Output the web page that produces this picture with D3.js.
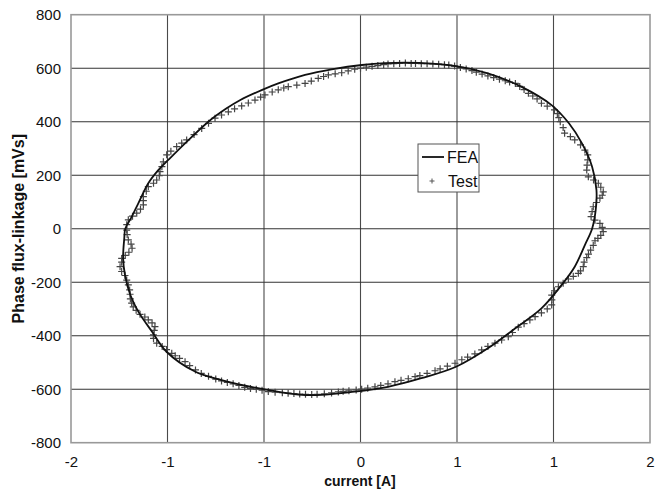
<!DOCTYPE html>
<html>
<head>
<meta charset="utf-8">
<script src="https://cdn.jsdelivr.net/npm/d3@7"></script>
<style>
  html, body { margin: 0; padding: 0; background: #fff; }
  svg { display: block; font-family: Arial, "Liberation Sans", sans-serif; }
</style>
</head>
<body>
<svg id="chart" width="662" height="491"></svg>
<script>
// Axis ticks (Excel style: major unit 2/3, labels rounded to integers)
const xTicks = [-2, -4/3, -2/3, 0, 2/3, 4/3, 2];
const yTicks = [-800, -600, -400, -200, 0, 200, 400, 600, 800];

// FEA flux-linkage loop: current [A] / flux-linkage [mVs]
const feaCurrent = [-0.20, 0.01, 0.31, 0.66, 0.88, 1.11, 1.32, 1.44, 1.53, 1.60, 1.63, 1.625, 1.60, 1.55, 1.48, 1.39, 1.25, 1.07, 0.88, 0.66, 0.42, 0.19, -0.04, -0.38, -0.68, -0.96, -1.14, -1.34, -1.44, -1.535, -1.59, -1.627, -1.64, -1.632, -1.625, -1.58, -1.535, -1.466, -1.397, -1.328, -1.212, -1.051, -0.93, -0.83, -0.683, -0.568, -0.383];
const feaFlux    = [596, 612, 621, 608, 581, 531, 462, 394, 319, 232, 145, 70, 0, -61, -142, -210, -298, -372, -447, -516, -559, -591, -609, -622, -599, -566, -535, -460, -385, -310, -248, -173, -111, -36, 0, 45, 95, 170, 219, 257, 319, 400, 448, 481, 518, 543, 575];

// Measured loop
const testCurrent = [-0.04, 0.0, 0.04, 0.08, 0.12, 0.16, 0.19, 0.23, 0.27, 0.31, 0.35, 0.38, 0.42, 0.46, 0.50, 0.54, 0.58, 0.61, 0.65, 0.69, 0.73, 0.77, 0.80, 0.84, 0.88, 0.92, 0.96, 1.00, 1.03, 1.07, 1.10, 1.13, 1.16, 1.19, 1.22, 1.25, 1.29, 1.34, 1.36, 1.37, 1.38, 1.40, 1.41, 1.45, 1.48, 1.52, 1.55, 1.57, 1.57, 1.565, 1.563, 1.574, 1.61, 1.643, 1.66, 1.677, 1.67, 1.654, 1.63, 1.608, 1.60, 1.593, 1.62, 1.654, 1.67, 1.677, 1.66, 1.64, 1.62, 1.608, 1.59, 1.575, 1.563, 1.545, 1.539, 1.52, 1.505, 1.47, 1.436, 1.40, 1.367, 1.34, 1.321, 1.322, 1.321, 1.29, 1.25, 1.206, 1.17, 1.13, 1.09, 1.05, 1.021, 0.975, 0.929, 0.88, 0.837, 0.79, 0.74, 0.70, 0.653, 0.60, 0.55, 0.515, 0.46, 0.41, 0.377, 0.33, 0.28, 0.238, 0.19, 0.14, 0.10, 0.05, 0.008, -0.03, -0.08, -0.12, -0.153, -0.20, -0.25, -0.30, -0.337, -0.38, -0.42, -0.46, -0.50, -0.54, -0.59, -0.637, -0.68, -0.72, -0.76, -0.80, -0.84, -0.88, -0.92, -0.96, -1.00, -1.05, -1.10, -1.14, -1.18, -1.212, -1.25, -1.28, -1.304, -1.34, -1.37, -1.408, -1.43, -1.431, -1.425, -1.42, -1.44, -1.466, -1.49, -1.523, -1.55, -1.57, -1.581, -1.59, -1.592, -1.595, -1.604, -1.615, -1.627, -1.65, -1.661, -1.65, -1.65, -1.625, -1.60, -1.578, -1.585, -1.604, -1.612, -1.615, -1.615, -1.604, -1.575, -1.546, -1.52, -1.50, -1.50, -1.50, -1.48, -1.466, -1.43, -1.408, -1.39, -1.385, -1.372, -1.362, -1.339, -1.31, -1.27, -1.235, -1.201, -1.15, -1.097, -1.05, -1.005, -0.96, -0.913, -0.87, -0.821, -0.775, -0.729, -0.69, -0.66, -0.61, -0.568, -0.53, -0.499, -0.44, -0.383, -0.34, -0.292, -0.255, -0.222, -0.175, -0.13, -0.085];
const testFlux    = [596, 600, 604, 607, 610, 613, 616, 617, 618, 619, 618, 618, 617, 617, 616, 615, 613, 612, 608, 603, 597, 591, 585, 578, 571, 565, 559, 553, 548, 543, 532, 520, 506, 496, 485, 469, 458, 444, 430, 415, 400, 378, 357, 344, 332, 313, 294, 276, 257, 238, 219, 194, 182, 170, 155, 138, 125, 114, 98, 82, 64, 45, 32, 20, 5, -11, -25, -36, -45, -62, -80, -95, -108, -125, -142, -158, -167, -178, -188, -204, -217, -232, -248, -266, -285, -300, -315, -329, -341, -355, -368, -388, -404, -416, -428, -440, -453, -468, -480, -490, -503, -514, -524, -531, -541, -549, -553, -561, -567, -572, -580, -586, -591, -596, -600, -603, -606, -608, -610, -614, -617, -619, -620, -619, -618, -616, -615, -613, -611, -609, -604, -600, -597, -593, -586, -580, -575, -569, -562, -552, -541, -528, -512, -497, -485, -475, -466, -452, -440, -428, -410, -397, -380, -366, -352, -341, -330, -320, -305, -292, -278, -262, -245, -229, -210, -192, -175, -160, -142, -125, -111, -100, -88, -73, -58, -42, -22, -5, 15, 33, 47, 58, 73, 89, 105, 120, 140, 157, 170, 182, 198, 213, 232, 250, 276, 290, 307, 320, 332, 352, 375, 394, 413, 425, 437, 448, 459, 470, 481, 492, 500, 511, 519, 526, 531, 537, 543, 552, 562, 569, 575, 579, 583, 590];

const svg = d3.select("#chart");
const plot = { left: 71, right: 650, top: 14.7, bottom: 442.7 };
const font = "Arial, 'Liberation Sans', sans-serif";

const x = d3.scaleLinear().domain([-2, 2]).range([plot.left, plot.right]);
const y = d3.scaleLinear().domain([-800, 800]).range([plot.bottom, plot.top]);

// Gridlines
const grid = svg.append("g");
grid.selectAll("line.v").data(xTicks.slice(1, -1)).join("line")
  .attr("x1", d => x(d)).attr("x2", d => x(d))
  .attr("y1", plot.top).attr("y2", plot.bottom)
  .attr("stroke", "#4a4a4a").attr("stroke-width", 1.1);
grid.selectAll("line.h").data(yTicks.slice(1, -1)).join("line")
  .attr("x1", plot.left).attr("x2", plot.right)
  .attr("y1", d => y(d)).attr("y2", d => y(d))
  .attr("stroke", "#333").attr("stroke-width", 1.1);

// Plot frame
svg.append("rect")
  .attr("x", plot.left).attr("y", plot.top)
  .attr("width", plot.right - plot.left).attr("height", plot.bottom - plot.top)
  .attr("fill", "none").attr("stroke", "#999").attr("stroke-width", 1.6);

// Axes (labels only; integer rounding, plain hyphen minus)
const xAxis = d3.axisBottom(x).tickValues(xTicks).tickSize(0).tickPadding(0)
  .tickFormat(d => { const r = Math.round(d); return r === 0 ? "0" : String(r); });
const gx = svg.append("g").attr("transform", `translate(0,${plot.bottom})`).call(xAxis);
gx.select(".domain").remove();
gx.selectAll("text").attr("dy", null).attr("y", 24)
  .attr("font-size", 15).attr("fill", "#111").attr("font-family", font);

const yAxis = d3.axisLeft(y).tickValues(yTicks).tickSize(0).tickPadding(10)
  .tickFormat(d => String(d));
const gy = svg.append("g").attr("transform", `translate(${plot.left},0)`).call(yAxis);
gy.select(".domain").remove();
gy.selectAll("text").attr("font-size", 15).attr("fill", "#111").attr("font-family", font);

// Axis titles
svg.append("text")
  .attr("x", 360).attr("y", 486)
  .attr("text-anchor", "middle").attr("font-weight", "bold").attr("font-size", 14)
  .attr("fill", "#111").text("current [A]");
svg.append("text")
  .attr("transform", `translate(24,${(plot.top + plot.bottom) / 2}) rotate(-90)`)
  .attr("text-anchor", "middle").attr("font-weight", "bold").attr("font-size", 16)
  .attr("fill", "#111").text("Phase flux-linkage [mVs]");

// Measured points
const testPts = testCurrent.map((c, i) => [c, testFlux[i]]);
svg.append("g").selectAll("path").data(testPts).join("path")
  .attr("transform", d => `translate(${x(d[0])},${y(d[1])})`)
  .attr("d", "M-3.5,0H3.5M0,-3.5V3.5")
  .attr("stroke", "#444").attr("stroke-width", 1.2).attr("fill", "none");

// FEA curve
const feaPts = feaCurrent.map((c, i) => [c, feaFlux[i]]);
const line = d3.line().x(d => x(d[0])).y(d => y(d[1])).curve(d3.curveCatmullRomClosed.alpha(0.5));
svg.append("path").datum(feaPts)
  .attr("d", line).attr("fill", "none").attr("stroke", "#111").attr("stroke-width", 1.8);

// Legend
const lg = svg.append("g").attr("transform", "translate(418,144)");
lg.append("rect").attr("width", 61).attr("height", 48)
  .attr("fill", "#fff").attr("stroke", "#555").attr("stroke-width", 1);
lg.append("line").attr("x1", 4).attr("x2", 26).attr("y1", 13).attr("y2", 13)
  .attr("stroke", "#111").attr("stroke-width", 1.8);
lg.append("text").attr("x", 29).attr("y", 19).attr("font-size", 16).attr("fill", "#111").text("FEA");
lg.append("path").attr("transform", "translate(14,37)").attr("d", "M-2.5,0H2.5M0,-2.5V2.5")
  .attr("stroke", "#555").attr("stroke-width", 1);
lg.append("text").attr("x", 30).attr("y", 43).attr("font-size", 16).attr("fill", "#111").text("Test");
</script>
</body>
</html>
